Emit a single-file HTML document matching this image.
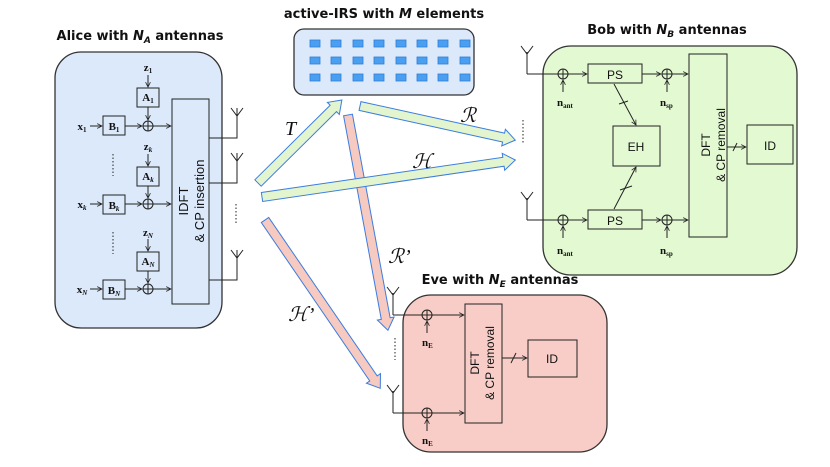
<!DOCTYPE html>
<html><head><meta charset="utf-8"><style>
html,body{margin:0;padding:0;background:#fff}
svg{display:block}
text{font-family:"Liberation Sans",sans-serif}
.t{font-family:"DejaVu Sans","Liberation Sans",sans-serif;font-weight:bold;font-size:13px}
.m{font-family:"Liberation Serif",serif;font-weight:bold;font-size:11px}
.s{font-family:"Liberation Serif","DejaVu Serif",serif;font-style:italic;font-size:20px}
</style></head><body>
<svg width="830" height="467" viewBox="0 0 830 467" xmlns="http://www.w3.org/2000/svg">
<defs>
<marker id="a" viewBox="0 0 10 10" refX="9" refY="5" markerWidth="6" markerHeight="6" orient="auto"><path d="M1,1 L9,5 L1,9" fill="none" stroke="#222" stroke-width="1.3"/></marker>
</defs>
<g stroke="#222" stroke-width="1" fill="none">
<rect x="55" y="52" width="167" height="276" rx="26" fill="#dbe9fb" stroke="#333" stroke-width="1.3"/>
<rect x="172" y="99" width="37" height="205" fill="#dbe9fb"/>
<g>
<rect x="103" y="116" width="22" height="19"/><rect x="137" y="88" width="22" height="19"/>
<circle cx="148" cy="126" r="5"/><line x1="143" y1="126" x2="153" y2="126"/><line x1="148" y1="121" x2="148" y2="131"/>
<line x1="90" y1="126" x2="102" y2="126" marker-end="url(#a)"/><line x1="125" y1="126" x2="142" y2="126" marker-end="url(#a)"/>
<line x1="153" y1="126" x2="171" y2="126" marker-end="url(#a)"/>
<line x1="148" y1="75" x2="148" y2="87" marker-end="url(#a)"/><line x1="148" y1="107" x2="148" y2="120" marker-end="url(#a)"/>
</g>
<g>
<rect x="103" y="195" width="22" height="19"/><rect x="137" y="167" width="22" height="19"/>
<circle cx="148" cy="204" r="5"/><line x1="143" y1="204" x2="153" y2="204"/><line x1="148" y1="199" x2="148" y2="209"/>
<line x1="90" y1="204" x2="102" y2="204" marker-end="url(#a)"/><line x1="125" y1="204" x2="142" y2="204" marker-end="url(#a)"/>
<line x1="153" y1="204" x2="171" y2="204" marker-end="url(#a)"/>
<line x1="148" y1="154" x2="148" y2="166" marker-end="url(#a)"/><line x1="148" y1="186" x2="148" y2="198" marker-end="url(#a)"/>
</g>
<g>
<rect x="103" y="280" width="22" height="19"/><rect x="137" y="252" width="22" height="19"/>
<circle cx="148" cy="289" r="5"/><line x1="143" y1="289" x2="153" y2="289"/><line x1="148" y1="284" x2="148" y2="294"/>
<line x1="90" y1="289" x2="102" y2="289" marker-end="url(#a)"/><line x1="125" y1="289" x2="142" y2="289" marker-end="url(#a)"/>
<line x1="153" y1="289" x2="171" y2="289" marker-end="url(#a)"/>
<line x1="148" y1="239" x2="148" y2="251" marker-end="url(#a)"/><line x1="148" y1="271" x2="148" y2="283" marker-end="url(#a)"/>
</g>
<line x1="113" y1="154" x2="113" y2="176" stroke-dasharray="1.5,2"/>
<line x1="113" y1="232" x2="113" y2="254" stroke-dasharray="1.5,2"/>
<path d="M209,138 H237 V108 M231,108 L237,116 L243,108"/>
<path d="M209,183 H237 V153 M231,153 L237,161 L243,153"/>
<path d="M209,280 H237 V250 M231,250 L237,258 L243,250"/>
<line x1="236" y1="204" x2="236" y2="224" stroke-dasharray="1.5,2"/>
<rect x="294" y="29" width="180" height="66" rx="10" fill="#dbe9fb" stroke="#333" stroke-width="1.3"/>
</g>
<g fill="#4a9ff0" stroke="#2f7fd8" stroke-width="0.8">
<rect x="310" y="40" width="10" height="7"/><rect x="331" y="40" width="10" height="7"/><rect x="353" y="40" width="10" height="7"/><rect x="374" y="40" width="10" height="7"/><rect x="396" y="40" width="10" height="7"/><rect x="417" y="40" width="10" height="7"/><rect x="438" y="40" width="10" height="7"/><rect x="460" y="40" width="10" height="7"/>
<rect x="310" y="57" width="10" height="7"/><rect x="331" y="57" width="10" height="7"/><rect x="353" y="57" width="10" height="7"/><rect x="374" y="57" width="10" height="7"/><rect x="396" y="57" width="10" height="7"/><rect x="417" y="57" width="10" height="7"/><rect x="438" y="57" width="10" height="7"/><rect x="460" y="57" width="10" height="7"/>
<rect x="310" y="74" width="10" height="7"/><rect x="331" y="74" width="10" height="7"/><rect x="353" y="74" width="10" height="7"/><rect x="374" y="74" width="10" height="7"/><rect x="396" y="74" width="10" height="7"/><rect x="417" y="74" width="10" height="7"/><rect x="438" y="74" width="10" height="7"/><rect x="460" y="74" width="10" height="7"/>
</g>
<g stroke="#3b7de0" stroke-width="1">
<path transform="translate(258,183) rotate(-44.7)" d="M0,-4.5 L106,-4.5 L106,-8.5 L118,0 L106,8.5 L106,4.5 L0,4.5 Z" fill="#e3f5cf"/>
<path transform="translate(360,106) rotate(12.4)" d="M0,-4.5 L147,-4.5 L147,-8.5 L159,0 L147,8.5 L147,4.5 L0,4.5 Z" fill="#e3f5cf"/>
<path transform="translate(348,115) rotate(79.5)" d="M0,-4.5 L207,-4.5 L207,-8.5 L219,0 L207,8.5 L207,4.5 L0,4.5 Z" fill="#f6c9c1"/>
<path transform="translate(262,197) rotate(-8.3)" d="M0,-4.5 L244,-4.5 L244,-8.5 L256,0 L244,8.5 L244,4.5 L0,4.5 Z" fill="#e3f5cf"/>
<path transform="translate(265,220) rotate(55.6)" d="M0,-4.5 L192,-4.5 L192,-8.5 L204,0 L192,8.5 L192,4.5 L0,4.5 Z" fill="#f6c9c1"/>
</g>
<g stroke="#222" stroke-width="1" fill="none">
<rect x="543" y="46" width="254" height="229" rx="28" fill="#e3f9d2" stroke="#333" stroke-width="1.3"/>
<path d="M527,74 H558 M527,74 V52 M521,46 L527,54 L533,46"/>
<path d="M527,220 H558 M527,220 V198 M521,192 L527,200 L533,192"/>
<line x1="523" y1="120" x2="523" y2="143" stroke-dasharray="1.5,2"/>
<circle cx="563" cy="74" r="5"/><line x1="558" y1="74" x2="568" y2="74"/><line x1="563" y1="69" x2="563" y2="79"/>
<circle cx="563" cy="220" r="5"/><line x1="558" y1="220" x2="568" y2="220"/><line x1="563" y1="215" x2="563" y2="225"/>
<circle cx="667" cy="74" r="5"/><line x1="662" y1="74" x2="672" y2="74"/><line x1="667" y1="69" x2="667" y2="79"/>
<circle cx="667" cy="220" r="5"/><line x1="662" y1="220" x2="672" y2="220"/><line x1="667" y1="215" x2="667" y2="225"/>
<rect x="588" y="64" width="54" height="19"/><rect x="588" y="210" width="54" height="19"/>
<rect x="613" y="126" width="47" height="40"/><rect x="689" y="54" width="38" height="183"/><rect x="747" y="125" width="46" height="39"/>
<line x1="568" y1="74" x2="587" y2="74" marker-end="url(#a)"/><line x1="642" y1="74" x2="661" y2="74" marker-end="url(#a)"/><line x1="672" y1="74" x2="688" y2="74" marker-end="url(#a)"/>
<line x1="568" y1="220" x2="587" y2="220" marker-end="url(#a)"/><line x1="642" y1="220" x2="661" y2="220" marker-end="url(#a)"/><line x1="672" y1="220" x2="688" y2="220" marker-end="url(#a)"/>
<line x1="563" y1="92" x2="563" y2="80" marker-end="url(#a)"/><line x1="563" y1="238" x2="563" y2="226" marker-end="url(#a)"/>
<line x1="667" y1="92" x2="667" y2="80" marker-end="url(#a)"/><line x1="667" y1="238" x2="667" y2="226" marker-end="url(#a)"/>
<line x1="614" y1="84" x2="636" y2="125" marker-end="url(#a)"/><line x1="619" y1="104" x2="628" y2="101"/>
<line x1="614" y1="209" x2="636" y2="167" marker-end="url(#a)"/><line x1="620" y1="190" x2="632" y2="186"/>
<line x1="727" y1="147" x2="746" y2="147" marker-end="url(#a)"/><line x1="733" y1="151" x2="737" y2="143"/>
<rect x="403" y="295" width="204" height="157" rx="28" fill="#f8cdc7" stroke="#333" stroke-width="1.3"/>
<path d="M393,315 H422 M393,315 V293 M387,287 L393,295 L399,287"/>
<path d="M393,413 H422 M393,413 V391 M387,385 L393,393 L399,385"/>
<line x1="395" y1="338" x2="395" y2="360" stroke-dasharray="1.5,2"/>
<circle cx="427" cy="315" r="5"/><line x1="422" y1="315" x2="432" y2="315"/><line x1="427" y1="310" x2="427" y2="320"/>
<circle cx="427" cy="413" r="5"/><line x1="422" y1="413" x2="432" y2="413"/><line x1="427" y1="408" x2="427" y2="418"/>
<line x1="432" y1="315" x2="464" y2="315" marker-end="url(#a)"/><line x1="432" y1="413" x2="464" y2="413" marker-end="url(#a)"/>
<line x1="427" y1="333" x2="427" y2="321" marker-end="url(#a)"/><line x1="427" y1="431" x2="427" y2="419" marker-end="url(#a)"/>
<rect x="465" y="304" width="37" height="119"/><rect x="528" y="340" width="49" height="37"/>
<line x1="502" y1="358" x2="527" y2="358" marker-end="url(#a)"/><line x1="511" y1="363" x2="516" y2="353"/>
</g>
<g fill="#111">
<text class="t" x="140" y="40" text-anchor="middle">Alice with <tspan font-style="italic">N</tspan><tspan font-style="italic" font-size="9" dy="3">A</tspan><tspan dy="-3"> antennas</tspan></text>
<text class="t" x="384" y="18" text-anchor="middle">active-IRS with <tspan font-style="italic">M</tspan> elements</text>
<text class="t" x="667" y="34" text-anchor="middle">Bob with <tspan font-style="italic">N</tspan><tspan font-style="italic" font-size="9" dy="3">B</tspan><tspan dy="-3"> antennas</tspan></text>
<text class="t" x="500" y="284" text-anchor="middle">Eve with <tspan font-style="italic">N</tspan><tspan font-style="italic" font-size="9" dy="3">E</tspan><tspan dy="-3"> antennas</tspan></text>
<text class="m" x="148" y="71" text-anchor="middle">z<tspan font-size="7" dy="2">1</tspan></text>
<text class="m" x="148" y="101" text-anchor="middle">A<tspan font-size="7" dy="2">1</tspan></text>
<text class="m" x="114" y="130" text-anchor="middle">B<tspan font-size="7" dy="2">1</tspan></text>
<text class="m" x="82" y="130" text-anchor="middle">x<tspan font-size="7" dy="2">1</tspan></text>
<text class="m" x="148" y="150" text-anchor="middle">z<tspan font-size="7" dy="2" font-style="italic">k</tspan></text>
<text class="m" x="148" y="180" text-anchor="middle">A<tspan font-size="7" dy="2" font-style="italic">k</tspan></text>
<text class="m" x="114" y="209" text-anchor="middle">B<tspan font-size="7" dy="2" font-style="italic">k</tspan></text>
<text class="m" x="82" y="208" text-anchor="middle">x<tspan font-size="7" dy="2" font-style="italic">k</tspan></text>
<text class="m" x="148" y="236" text-anchor="middle">z<tspan font-size="7" dy="2" font-style="italic">N</tspan></text>
<text class="m" x="148" y="265" text-anchor="middle">A<tspan font-size="7" dy="2" font-style="italic">N</tspan></text>
<text class="m" x="114" y="294" text-anchor="middle">B<tspan font-size="7" dy="2" font-style="italic">N</tspan></text>
<text class="m" x="82" y="293" text-anchor="middle">x<tspan font-size="7" dy="2" font-style="italic">N</tspan></text>
<text x="188" y="201" font-size="13" transform="rotate(-90 188 201)" text-anchor="middle">IDFT</text>
<text x="204" y="201" font-size="13" transform="rotate(-90 204 201)" text-anchor="middle">&amp; CP insertion</text>
<text x="615" y="79" font-size="12" text-anchor="middle">PS</text>
<text x="615" y="225" font-size="12" text-anchor="middle">PS</text>
<text x="636" y="151" font-size="12" text-anchor="middle">EH</text>
<text x="770" y="150" font-size="12" text-anchor="middle">ID</text>
<text x="552" y="363" font-size="12" text-anchor="middle">ID</text>
<text x="710" y="145" font-size="12" transform="rotate(-90 710 145)" text-anchor="middle">DFT</text>
<text x="725" y="145" font-size="12" transform="rotate(-90 725 145)" text-anchor="middle">&amp;  CP removal</text>
<text x="479" y="363" font-size="12" transform="rotate(-90 479 363)" text-anchor="middle">DFT</text>
<text x="494" y="363" font-size="12" transform="rotate(-90 494 363)" text-anchor="middle">&amp;  CP removal</text>
<text class="m" x="557" y="106">n<tspan font-size="7" dy="2">ant</tspan></text>
<text class="m" x="557" y="254">n<tspan font-size="7" dy="2">ant</tspan></text>
<text class="m" x="660" y="106">n<tspan font-size="7" dy="2">sp</tspan></text>
<text class="m" x="660" y="254">n<tspan font-size="7" dy="2">sp</tspan></text>
<text class="m" x="422" y="346">n<tspan font-size="7" dy="2">E</tspan></text>
<text class="m" x="422" y="444">n<tspan font-size="7" dy="2">E</tspan></text>
<text class="s" x="285" y="135">T</text>
<text class="s" x="460" y="122">ℛ</text>
<text class="s" x="412" y="168">ℋ</text>
<text class="s" x="388" y="263">ℛ’</text>
<text class="s" x="288" y="321">ℋ’</text>
</g>
</svg>
</body></html>
